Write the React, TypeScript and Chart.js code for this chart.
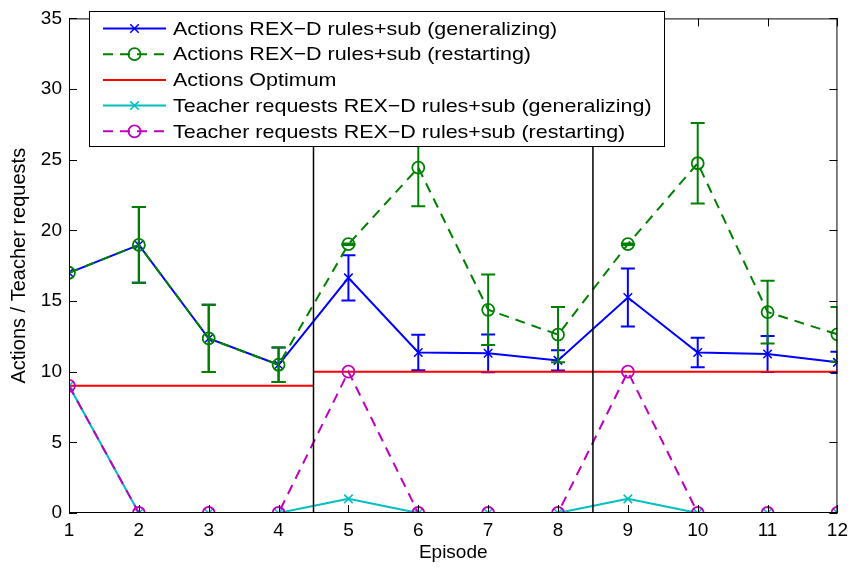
import React, { useEffect, useRef } from "react";
import { Chart, registerables } from "chart.js";

Chart.register(...registerables);

const episodes = [1, 2, 3, 4, 5, 6, 7, 8, 9, 10, 11, 12];
const actionsGeneralizing = [17, 18.97, 12.35, 10.49, 16.64, 11.36, 11.3, 10.8, 15.25, 11.36, 11.25, 10.66];
const actionsGeneralizingErr = [0, 2.68, 2.38, 1.22, 1.6, 1.26, 1.34, 0.72, 2.05, 1.05, 1.28, 0.75];
const actionsRestarting = [17, 18.97, 12.35, 10.49, 19.02, 24.44, 14.38, 12.62, 19.02, 24.75, 14.22, 12.64];
const actionsRestartingErr = [0, 2.68, 2.38, 1.22, 0.05, 2.74, 2.5, 1.95, 0.05, 2.85, 2.22, 1.93];
const optimumX = [1, 4.5, 4.5, 4.5, 12];
const optimumY = [9, 9, null, 10, 10];
const teacherGeneralizing = [9, 0, 0, 0, 1, 0, 0, 0, 1, 0, 0, 0];
const teacherRestarting = [9, 0, 0, 0, 10, 0, 0, 0, 10, 0, 0, 0];
const separatorsX = [4.5, 8.5];
const separatorY = [0, 35];

const legendLabels = [
  "Actions REX\u2212D rules+sub (generalizing)",
  "Actions REX\u2212D rules+sub (restarting)",
  "Actions Optimum",
  "Teacher requests REX\u2212D rules+sub (generalizing)",
  "Teacher requests REX\u2212D rules+sub (restarting)",
];

const FONT = "'Liberation Sans', Arial, Helvetica, sans-serif";

function drawMarker(ctx: CanvasRenderingContext2D, style: string, x: number, y: number, r: number, color: string, lw: number) {
  ctx.save();
  ctx.strokeStyle = color;
  ctx.lineWidth = lw;
  ctx.setLineDash([]);
  ctx.beginPath();
  if (style === "circle") {
    ctx.arc(x, y, r, 0, Math.PI * 2);
  } else if (style === "crossRot") {
    const d = r * Math.SQRT1_2;
    ctx.moveTo(x - d, y - d);
    ctx.lineTo(x + d, y + d);
    ctx.moveTo(x - d, y + d);
    ctx.lineTo(x + d, y - d);
  }
  ctx.stroke();
  ctx.restore();
}

const errorBarPlugin = {
  id: "errorBars",
  afterDatasetDraw(chart: any, args: any) {
    const ds = chart.data.datasets[args.index];
    if (!ds.errors) return;
    const { ctx, chartArea, scales } = chart;
    ctx.save();
    ctx.beginPath();
    ctx.rect(chartArea.left, chartArea.top, chartArea.right - chartArea.left, chartArea.bottom - chartArea.top);
    ctx.clip();
    ctx.strokeStyle = ds.borderColor;
    ctx.lineWidth = 2;
    ctx.setLineDash([]);
    ds.data.forEach((p: any, i: number) => {
      const e = ds.errors[i];
      if (!e) return;
      const x = scales.x.getPixelForValue(p.x);
      const yLo = scales.y.getPixelForValue(p.y - e);
      const yHi = scales.y.getPixelForValue(p.y + e);
      const hw = 7;
      ctx.beginPath();
      ctx.moveTo(x, yLo);
      ctx.lineTo(x, yHi);
      ctx.moveTo(x - hw, yLo);
      ctx.lineTo(x + hw, yLo);
      ctx.moveTo(x - hw, yHi);
      ctx.lineTo(x + hw, yHi);
      ctx.stroke();
    });
    ctx.restore();
  },
};

const framePlugin = {
  id: "matlabFrame",
  afterDatasetsDraw(chart: any) {
    const { ctx, chartArea: a, scales } = chart;
    ctx.save();
    ctx.strokeStyle = "#000";
    ctx.lineWidth = 1;
    ctx.setLineDash([]);
    ctx.strokeRect(a.left + 0.5, a.top + 0.5, a.right - a.left - 1, a.bottom - a.top - 1);
    const tl = 8;
    ctx.beginPath();
    scales.x.ticks.forEach((t: any) => {
      const x = Math.round(scales.x.getPixelForValue(t.value)) + 0.5;
      ctx.moveTo(x, a.bottom);
      ctx.lineTo(x, a.bottom - tl);
      ctx.moveTo(x, a.top);
      ctx.lineTo(x, a.top + tl);
    });
    scales.y.ticks.forEach((t: any) => {
      const y = Math.round(scales.y.getPixelForValue(t.value)) + 0.5;
      ctx.moveTo(a.left, y);
      ctx.lineTo(a.left + tl, y);
      ctx.moveTo(a.right, y);
      ctx.lineTo(a.right - tl, y);
    });
    ctx.stroke();
    ctx.restore();
  },
  afterDraw(chart: any) {
    const { ctx } = chart;
    const boxL = 89, boxT = 11, boxR = 665, boxB = 147;
    ctx.save();
    ctx.fillStyle = "#fff";
    ctx.fillRect(boxL, boxT, boxR - boxL, boxB - boxT);
    ctx.strokeStyle = "#000";
    ctx.lineWidth = 1;
    ctx.setLineDash([]);
    ctx.strokeRect(boxL + 0.5, boxT + 0.5, boxR - boxL - 1, boxB - boxT - 1);
    const legendSets = chart.data.datasets.filter((d: any) => d.inLegend);
    legendSets.forEach((d: any, i: number) => {
      const y = 28.5 + i * 25.7;
      ctx.save();
      ctx.strokeStyle = d.borderColor;
      ctx.lineWidth = d.borderWidth;
      ctx.setLineDash(d.borderDash || []);
      ctx.beginPath();
      ctx.moveTo(103, y);
      ctx.lineTo(166, y);
      ctx.stroke();
      ctx.restore();
      if (d.pointRadius > 0) drawMarker(ctx, d.pointStyle, 134.5, y, d.pointRadius, d.borderColor, d.pointBorderWidth);
      ctx.save();
      ctx.fillStyle = "#000";
      ctx.font = `19px ${FONT}`;
      ctx.textBaseline = "middle";
      ctx.textAlign = "left";
      ctx.translate(173, y + 1);
      ctx.scale(1.13, 1);
      ctx.fillText(d.label, 0, 0);
      ctx.restore();
    });
    ctx.restore();
  },
};

export default function App() {
  const ref = useRef<HTMLCanvasElement>(null);
  useEffect(() => {
    document.body.style.margin = "0";
    const pts = (ys: number[]) => ys.map((y, i) => ({ x: episodes[i], y }));
    const chart = new Chart(ref.current!, {
      type: "line",
      data: {
        datasets: [
          {
            label: legendLabels[0],
            inLegend: true,
            data: pts(actionsGeneralizing),
            errors: actionsGeneralizingErr,
            borderColor: "#0000ff",
            backgroundColor: "rgba(0,0,0,0)",
            borderWidth: 2,
            pointStyle: "crossRot",
            pointRadius: 6,
            pointBorderWidth: 1.5,
            order: 6,
          },
          {
            label: legendLabels[1],
            inLegend: true,
            data: pts(actionsRestarting),
            errors: actionsRestartingErr,
            borderColor: "#008000",
            backgroundColor: "rgba(0,0,0,0)",
            borderWidth: 2,
            borderDash: [10, 7],
            pointStyle: "circle",
            pointRadius: 6,
            pointBorderWidth: 1.8,
            order: 5,
          },
          {
            label: legendLabels[2],
            inLegend: true,
            data: optimumX.map((x, i) => ({ x, y: optimumY[i] })),
            borderColor: "#ff0000",
            backgroundColor: "rgba(0,0,0,0)",
            borderWidth: 2,
            pointRadius: 0,
            spanGaps: false,
            order: 4,
          },
          {
            label: legendLabels[3],
            inLegend: true,
            data: pts(teacherGeneralizing),
            borderColor: "#00bfbf",
            backgroundColor: "rgba(0,0,0,0)",
            borderWidth: 2,
            pointStyle: "crossRot",
            pointRadius: 6,
            pointBorderWidth: 1.5,
            order: 3,
          },
          {
            label: legendLabels[4],
            inLegend: true,
            data: pts(teacherRestarting),
            borderColor: "#bf00bf",
            backgroundColor: "rgba(0,0,0,0)",
            borderWidth: 2,
            borderDash: [10, 7],
            pointStyle: "circle",
            pointRadius: 6,
            pointBorderWidth: 1.8,
            order: 2,
          },
          ...separatorsX.map((sx) => ({
            label: "separator",
            inLegend: false,
            data: separatorY.map((y) => ({ x: sx, y })),
            borderColor: "#000",
            backgroundColor: "rgba(0,0,0,0)",
            borderWidth: 1.5,
            pointRadius: 0,
            order: 1,
          })),
        ] as any,
      },
      options: {
        animation: false,
        responsive: false,
        maintainAspectRatio: false,
        layout: { padding: { top: 11, right: 10, left: 0, bottom: 0 } },
        plugins: { legend: { display: false }, tooltip: { enabled: false } },
        elements: { line: { tension: 0 } },
        scales: {
          x: {
            type: "linear",
            min: 1,
            max: 12,
            afterFit: (s: any) => { s.height = 57; },
            grid: { display: false, drawTicks: false },
            border: { display: false },
            ticks: { stepSize: 1, color: "#000", font: { family: FONT, size: 19 }, padding: 6, maxRotation: 0, autoSkip: false },
            title: { display: true, text: "Episode", color: "#000", font: { family: FONT, size: 19 }, padding: { top: 0, bottom: 6 } },
          },
          y: {
            min: 0,
            max: 35,
            afterFit: (s: any) => { s.width = 69; },
            grid: { display: false, drawTicks: false },
            border: { display: false },
            ticks: { stepSize: 5, color: "#000", font: { family: FONT, size: 19 }, padding: 7 },
            title: { display: true, text: "Actions / Teacher requests", color: "#000", font: { family: FONT, size: 20 }, padding: { top: 7, bottom: 0 } },
          },
        },
      } as any,
      plugins: [errorBarPlugin, framePlugin],
    });
    return () => chart.destroy();
  }, []);
  return (
    <div style={{ position: "absolute", left: 0, top: 0, width: 854, height: 570, background: "#fff" }}>
      <canvas ref={ref} width={854} height={570} />
    </div>
  );
}
